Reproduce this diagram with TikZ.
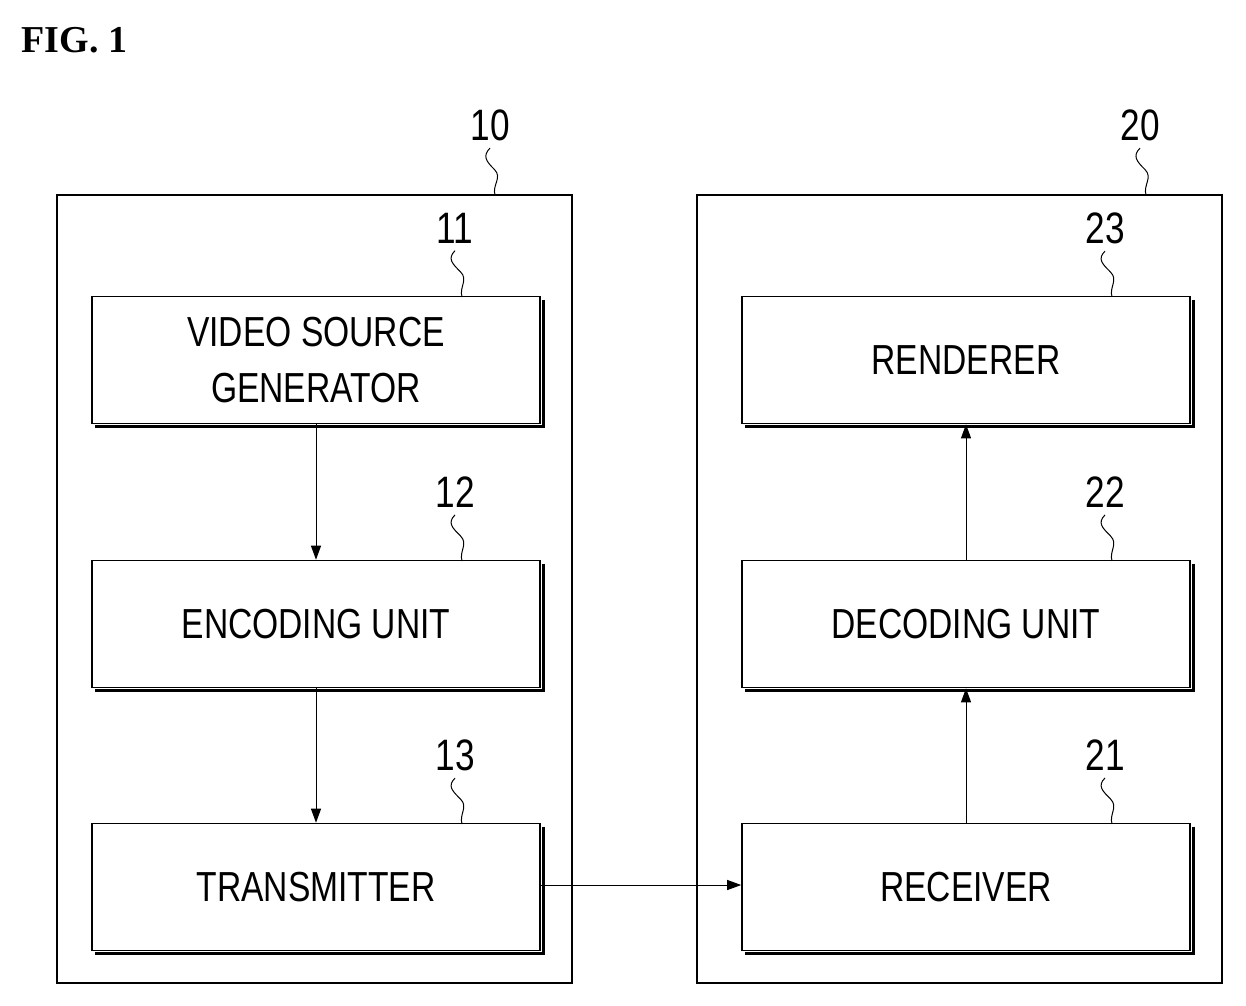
\documentclass[tikz,border=0pt]{standalone}
\usepackage{fontspec}
\setmainfont{Liberation Sans}
\newfontfamily\cond[FakeStretch=0.8]{Liberation Sans}
\newfontfamily\figfont{Liberation Serif}
\usetikzlibrary{arrows.meta,calc}
\begin{document}
\begin{tikzpicture}[x=1pt,y=-1pt,
  blk/.style={draw,line width=1.6pt,minimum width=448pt,minimum height=127pt,inner sep=0pt,
    font=\cond\fontsize{42}{56}\selectfont,align=center},
  lbl/.style={font=\cond\fontsize{44}{46}\selectfont},
  arr/.style={line width=1pt,-{Triangle[length=14pt,width=10pt]}}]
\useasboundingbox (0,0) rectangle (1246,1005);
\node[font=\figfont\bfseries\fontsize{38}{40}\selectfont,anchor=west] (fig) at (18,40) {FIG. 1};
\draw[line width=1.6pt] (57,195) rectangle (572,983);
\draw[line width=1.6pt] (697,195) rectangle (1222,983);
\newcommand{\myblk}[4]{%
  \node[blk] (#1) at (#2,#3) {#4};
  \draw[line width=3pt] ([xshift=2.5pt,yshift=-4pt]#1.north east) -- ([xshift=2.5pt,yshift=-2.5pt]#1.south east) -- ([xshift=4pt,yshift=-2.5pt]#1.south west);}
\myblk{vsg}{316}{360}{VIDEO SOURCE\\GENERATOR}
\myblk{enc}{316}{624}{ENCODING UNIT}
\myblk{tx}{316}{887}{TRANSMITTER}
\myblk{ren}{966}{360}{RENDERER}
\myblk{dec}{966}{624}{DECODING UNIT}
\myblk{rx}{966}{887}{RECEIVER}
\draw[arr] (vsg.south) -- (enc.north);
\draw[arr] (enc.south) -- (tx.north);
\draw[arr] (rx.north) -- (dec.south);
\draw[arr] (dec.north) -- (ren.south);
\draw[arr] (tx.east |- 0,885) -- (rx.west |- 0,885);
\newcommand{\mylab}[5]{%
  \node[lbl] (#1) at (#2,#3) {#4};
  \coordinate (#1e) at (#5);
  \draw[line width=1pt] ([yshift=-4pt]#1.south) .. controls +(-8,8) and +(-8,-8) .. ([xshift=2pt]$(#1.south)!0.5!(#1e)$) .. controls +(8,8) and +(-3,-10) .. (#1e);}
\mylab{l10}{490}{125}{10}{495,195}
\mylab{l20}{1140}{125}{20}{1146,195}
\mylab{l11}{455}{228}{11}{462,297}
\mylab{l12}{455}{492}{12}{462,561}
\mylab{l13}{455}{755}{13}{462,824}
\mylab{l23}{1105}{228}{23}{1112,297}
\mylab{l22}{1105}{492}{22}{1112,561}
\mylab{l21}{1105}{755}{21}{1112,824}
\end{tikzpicture}
\end{document}
